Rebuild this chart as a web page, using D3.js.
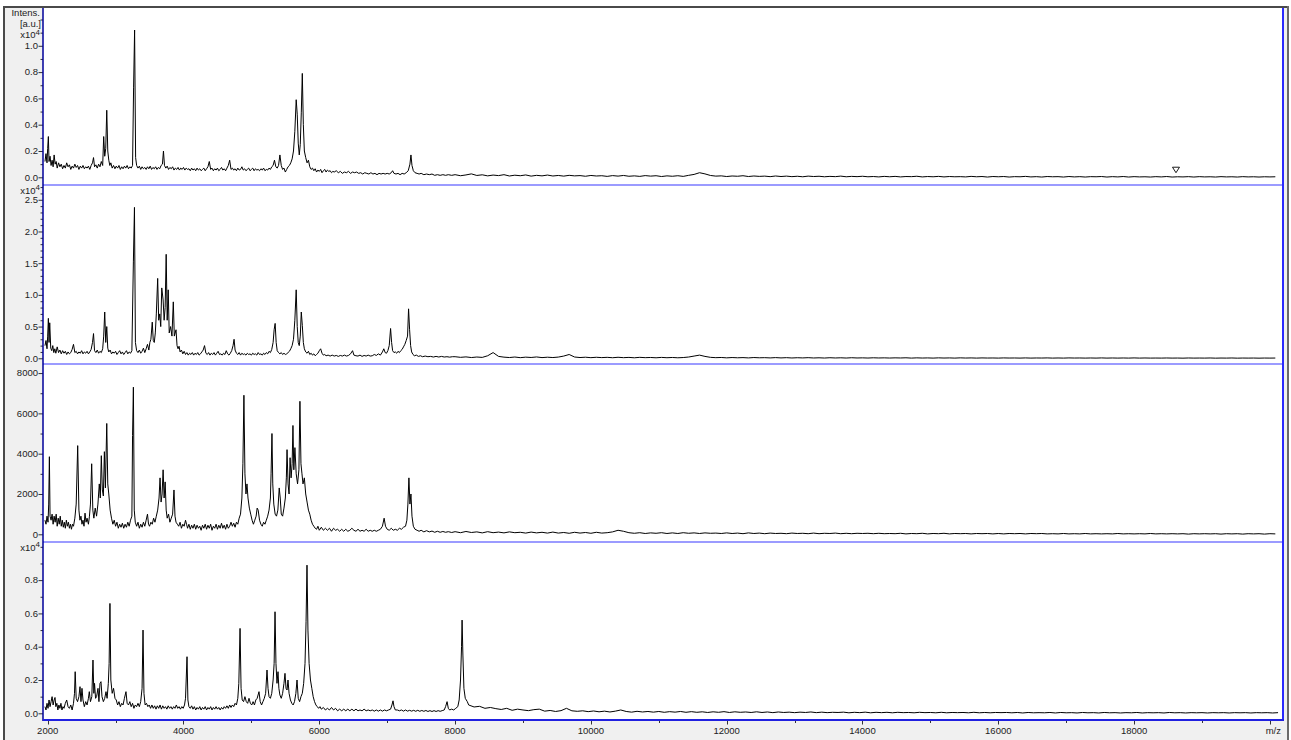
<!DOCTYPE html>
<html><head><meta charset="utf-8">
<script src="https://cdn.jsdelivr.net/npm/d3@7"></script>
<style>
body{margin:0;background:#fff}
svg{display:block}
text{font-family:"Liberation Sans",Arial,sans-serif;font-size:9.5px;fill:#222}
</style>
</head><body>
<svg id="c" width="1291" height="740"></svg>
<script>
// ---------- DATA (m/z, intensity a.u.) ----------
// low/mid mass part of each spectrum: [m/z, intensity]
const spec1 = [[1960,1200],[1975,1800],[1990,1100],[2000,2200],[2010,3100],[2020,1200],[2035,1600],[2050,900],[2065,1300],[2080,800],[2095,1700],[2110,1000],[2125,1200],[2140,700],[2160,1100],[2180,800],[2200,1000],[2220,650],[2240,900],[2260,700],[2280,1100],[2300,800],[2320,950],[2340,600],[2360,850],[2380,700],[2400,1000],[2420,750],[2440,900],[2460,600],[2480,850],[2500,700],[2520,900],[2540,650],[2560,800],[2580,700],[2600,850],[2620,600],[2640,900],[2660,1100],[2675,1500],[2690,800],[2710,950],[2730,700],[2750,1000],[2770,800],[2790,1200],[2810,900],[2825,3100],[2840,1600],[2855,2200],[2870,5100],[2885,2000],[2900,1300],[2915,900],[2930,1100],[2950,700],[2970,900],[2990,650],[3010,850],[3030,700],[3050,900],[3070,600],[3090,800],[3110,650],[3130,850],[3150,700],[3170,900],[3190,650],[3210,800],[3230,700],[3250,900],[3265,6800],[3280,11200],[3295,1500],[3310,900],[3330,700],[3350,850],[3370,600],[3390,800],[3410,650],[3430,750],[3450,600],[3470,800],[3490,650],[3510,850],[3530,600],[3550,750],[3570,650],[3590,800],[3610,600],[3630,750],[3650,650],[3670,900],[3690,1000],[3705,2000],[3720,900],[3740,700],[3760,850],[3780,600],[3800,750],[3820,650],[3840,800],[3860,550],[3880,700],[3900,600],[3920,750],[3940,550],[3960,700],[3980,600],[4000,750],[4020,550],[4040,700],[4060,600],[4080,650],[4100,500],[4120,700],[4140,550],[4160,650],[4180,500],[4200,700],[4220,550],[4240,650],[4260,500],[4280,600],[4300,700],[4320,500],[4340,650],[4360,800],[4380,1200],[4400,600],[4420,700],[4440,500],[4460,650],[4480,550],[4500,700],[4520,500],[4540,600],[4560,750],[4580,550],[4600,650],[4620,500],[4640,700],[4660,900],[4680,1300],[4700,600],[4720,700],[4740,550],[4760,650],[4780,500],[4800,700],[4820,550],[4840,600],[4860,800],[4880,550],[4900,650],[4920,500],[4940,600],[4960,700],[4980,500],[5000,600],[5020,700],[5040,500],[5060,650],[5080,550],[5100,600],[5120,500],[5140,650],[5160,550],[5180,700],[5200,500],[5220,600],[5240,550],[5260,700],[5280,600],[5300,800],[5320,900],[5340,1300],[5360,800],[5380,700],[5400,900],[5420,1700],[5440,900],[5460,600],[5480,700],[5500,400],[5520,600],[5540,800],[5560,900],[5580,1100],[5600,1400],[5620,2000],[5640,3500],[5660,5900],[5675,4800],[5690,2600],[5705,1700],[5720,2500],[5735,4900],[5750,7900],[5765,4000],[5780,2000],[5800,1500],[5820,1100],[5840,1300],[5860,800],[5880,600],[5900,700],[5920,500],[5940,650],[5960,400],[5980,550],[6000,450],[6020,600],[6040,350],[6060,500],[6080,600],[6100,400],[6120,550],[6140,450],[6160,500],[6180,350],[6200,450],[6220,400],[6250,500],[6280,350],[6310,450],[6340,300],[6370,400],[6400,350],[6430,450],[6460,300],[6490,400],[6520,350],[6550,400],[6580,300],[6610,350],[6640,250],[6670,350],[6700,300],[6730,250],[6760,350],[6790,250],[6820,300],[6850,200],[6880,300],[6910,250],[6940,300],[6970,250],[7000,300],[7030,250],[7060,350],[7080,500],[7100,300],[7130,250],[7160,300],[7190,200],[7220,300],[7250,250],[7280,350],[7310,500],[7335,1000],[7350,1700],[7365,900],[7385,500],[7410,350],[7440,300],[7470,250],[7500,300],[7540,200],[7580,250],[7620,200],[7660,250],[7700,150],[7740,200],[7780,150],[7820,200],[7860,150],[7900,200],[7950,150]];

const spec2 = [[1960,2000],[1975,2800],[1990,1500],[2000,3500],[2010,6300],[2020,2500],[2030,5600],[2045,1600],[2060,1200],[2075,2000],[2090,900],[2105,1500],[2120,800],[2140,1800],[2160,900],[2180,1300],[2200,700],[2220,1200],[2240,800],[2260,1100],[2280,600],[2300,1000],[2320,700],[2340,900],[2360,1400],[2380,2200],[2400,900],[2420,1100],[2440,700],[2460,1000],[2480,800],[2500,1200],[2520,700],[2540,1000],[2560,800],[2580,1100],[2600,700],[2620,1000],[2640,1400],[2660,2500],[2675,3900],[2690,1200],[2710,900],[2730,1300],[2750,800],[2770,1100],[2790,900],[2810,1500],[2825,3500],[2840,7300],[2855,2500],[2870,5000],[2885,1600],[2900,1000],[2920,1300],[2940,700],[2960,1000],[2980,800],[3000,1100],[3020,600],[3040,900],[3060,1200],[3080,700],[3100,1000],[3120,600],[3140,900],[3160,1200],[3180,700],[3200,1000],[3220,800],[3240,1200],[3262,15200],[3278,23800],[3292,2500],[3310,1200],[3330,900],[3350,1300],[3370,800],[3390,1100],[3410,1600],[3430,900],[3450,1500],[3470,2200],[3490,1300],[3505,2500],[3520,3000],[3540,5700],[3555,2800],[3570,2500],[3585,4000],[3600,7000],[3620,12600],[3635,6000],[3650,7000],[3665,5000],[3680,11100],[3700,9200],[3715,6000],[3730,8000],[3745,16400],[3760,6000],[3775,10800],[3790,4000],[3810,5000],[3830,3500],[3850,8900],[3865,3500],[3890,4500],[3905,2000],[3920,1500],[3935,1900],[3950,1000],[3970,1300],[3990,700],[4010,1100],[4030,600],[4050,900],[4070,500],[4090,800],[4110,600],[4130,900],[4150,500],[4170,800],[4190,600],[4210,900],[4230,500],[4250,700],[4270,1000],[4290,1300],[4310,2000],[4330,800],[4350,600],[4370,900],[4390,500],[4410,800],[4430,600],[4450,900],[4470,500],[4490,800],[4510,1100],[4530,600],[4550,700],[4570,500],[4590,800],[4610,600],[4630,1200],[4650,700],[4670,500],[4690,800],[4710,1200],[4730,2000],[4745,3000],[4760,1300],[4780,800],[4800,600],[4820,900],[4840,500],[4860,800],[4880,600],[4900,700],[4920,500],[4940,800],[4960,600],[4980,700],[5000,500],[5020,800],[5040,600],[5060,700],[5080,500],[5100,900],[5120,600],[5140,700],[5160,500],[5180,800],[5200,600],[5220,900],[5240,700],[5260,1100],[5280,900],[5300,1400],[5320,2500],[5335,4500],[5350,5500],[5365,2500],[5380,1200],[5400,900],[5420,700],[5440,900],[5460,600],[5480,800],[5500,600],[5520,700],[5540,900],[5560,1100],[5580,1500],[5600,2000],[5620,3000],[5640,6000],[5660,10800],[5675,5000],[5690,2500],[5705,2000],[5720,3500],[5735,7300],[5750,5200],[5765,2500],[5780,1500],[5800,1000],[5820,800],[5840,1100],[5860,600],[5880,800],[5900,500],[5920,700],[5940,400],[5960,600],[5980,800],[6000,1200],[6020,1500],[6040,800],[6060,500],[6080,600],[6100,400],[6130,500],[6160,350],[6190,500],[6220,350],[6250,450],[6280,300],[6310,450],[6340,350],[6370,500],[6400,350],[6430,450],[6460,700],[6490,1200],[6510,500],[6540,400],[6570,350],[6600,500],[6630,300],[6660,450],[6690,350],[6720,500],[6750,350],[6780,400],[6810,600],[6840,450],[6870,700],[6900,500],[6930,1000],[6950,1500],[6970,900],[6990,800],[7010,1200],[7030,2000],[7050,4700],[7065,2500],[7080,1200],[7100,900],[7120,1000],[7140,800],[7160,1100],[7180,900],[7200,1200],[7220,1400],[7240,1800],[7260,2200],[7280,2800],[7300,3500],[7315,7800],[7330,4500],[7345,2000],[7360,1000],[7380,600],[7400,400],[7430,500],[7460,300],[7490,400],[7520,250],[7560,350],[7600,250],[7640,300],[7680,200],[7720,300],[7760,200],[7800,300],[7840,200],[7880,250],[7920,180],[7960,250]];

const spec3 = [[1960,700],[1975,500],[1990,900],[2005,600],[2015,1500],[2025,3850],[2035,900],[2050,700],[2065,1000],[2080,500],[2095,900],[2110,600],[2125,1000],[2140,400],[2155,800],[2170,500],[2185,900],[2200,400],[2215,700],[2230,350],[2245,600],[2260,300],[2275,700],[2290,400],[2305,600],[2320,300],[2335,500],[2350,250],[2365,500],[2380,400],[2400,800],[2420,1500],[2442,4400],[2460,1200],[2475,700],[2490,900],[2505,500],[2520,700],[2535,400],[2550,1050],[2565,600],[2580,800],[2600,500],[2615,900],[2630,1500],[2648,3500],[2665,1200],[2680,800],[2700,1300],[2720,900],[2740,1500],[2760,2500],[2775,1800],[2790,3900],[2805,2200],[2820,1900],[2835,4100],[2850,2300],[2870,5500],[2885,2500],[2900,2000],[2920,1200],[2940,800],[2960,500],[2980,700],[3000,400],[3020,600],[3040,300],[3060,500],[3080,350],[3100,550],[3120,300],[3140,500],[3160,350],[3180,600],[3200,400],[3220,700],[3240,900],[3250,4900],[3262,7300],[3275,1200],[3290,600],[3310,400],[3330,600],[3350,300],[3370,500],[3390,350],[3410,600],[3430,400],[3450,700],[3470,1000],[3485,500],[3500,400],[3520,600],[3540,500],[3560,800],[3580,600],[3600,900],[3620,1200],[3640,1800],[3655,2800],[3670,1600],[3685,2000],[3700,3200],[3715,1800],[3730,2600],[3745,1200],[3760,800],[3780,1000],[3800,600],[3820,800],[3840,1000],[3860,2200],[3875,900],[3890,600],[3910,500],[3930,400],[3950,600],[3970,300],[3990,500],[4010,400],[4030,700],[4045,500],[4060,300],[4080,500],[4100,250],[4120,450],[4140,300],[4160,500],[4180,250],[4200,450],[4220,300],[4240,400],[4260,200],[4280,450],[4300,300],[4320,500],[4340,250],[4360,450],[4380,300],[4400,500],[4420,200],[4440,400],[4460,300],[4480,500],[4500,250],[4520,450],[4540,300],[4560,550],[4580,300],[4600,450],[4620,250],[4640,500],[4660,300],[4680,400],[4700,600],[4720,400],[4740,550],[4760,350],[4780,600],[4800,500],[4820,800],[4840,1000],[4860,1800],[4875,3500],[4890,6900],[4905,3000],[4920,2000],[4935,2500],[4950,1800],[4970,1300],[4990,1000],[5010,700],[5030,500],[5050,700],[5070,900],[5085,1300],[5100,1200],[5120,700],[5140,500],[5160,400],[5180,600],[5200,500],[5220,700],[5240,900],[5260,1200],[5280,1800],[5290,3000],[5303,5000],[5315,2500],[5330,1500],[5350,1000],[5370,900],[5390,1200],[5410,2300],[5425,1800],[5440,1000],[5460,900],[5480,1300],[5500,1800],[5515,2800],[5525,4200],[5540,2500],[5555,2000],[5570,3800],[5585,2800],[5600,3500],[5612,5400],[5625,3200],[5641,4300],[5660,3000],[5680,2500],[5700,3200],[5715,6600],[5730,3500],[5745,3000],[5760,2500],[5780,2800],[5800,2000],[5820,1600],[5840,1200],[5860,1000],[5880,700],[5900,500],[5920,400],[5940,300],[5960,250],[5980,400],[6000,200],[6030,350],[6060,200],[6090,300],[6120,200],[6150,300],[6180,150],[6210,300],[6240,200],[6270,250],[6300,150],[6330,250],[6360,150],[6390,250],[6420,150],[6450,200],[6480,300],[6510,200],[6540,150],[6570,250],[6600,150],[6630,200],[6660,150],[6690,250],[6720,150],[6750,200],[6780,150],[6810,200],[6840,150],[6870,200],[6900,250],[6930,400],[6955,800],[6975,400],[7000,250],[7030,200],[7060,300],[7090,200],[7120,250],[7150,200],[7180,300],[7210,250],[7240,350],[7270,400],[7290,700],[7305,1500],[7320,2800],[7335,1500],[7350,2000],[7365,900],[7385,400],[7410,250],[7440,200],[7470,150],[7500,200],[7540,120],[7580,180],[7620,120],[7660,160],[7700,100],[7740,150],[7780,100],[7820,140],[7860,100],[7900,130],[7950,90]];

const spec4 = [[1960,400],[1975,200],[1990,600],[2005,300],[2020,800],[2035,400],[2050,700],[2065,1000],[2080,500],[2095,800],[2108,950],[2120,400],[2135,600],[2150,200],[2165,500],[2180,300],[2195,600],[2210,200],[2225,400],[2240,300],[2260,600],[2280,800],[2300,400],[2320,300],[2340,500],[2360,200],[2380,600],[2395,1200],[2405,2500],[2420,900],[2440,700],[2460,1000],[2476,1600],[2490,700],[2505,1500],[2520,800],[2540,400],[2560,700],[2580,500],[2600,900],[2613,1300],[2630,700],[2650,1000],[2667,3200],[2680,1200],[2690,1800],[2705,900],[2720,1000],[2741,1500],[2755,700],[2770,1800],[2785,1900],[2800,1000],[2820,700],[2840,900],[2859,1300],[2875,900],[2893,1800],[2905,3000],[2917,6600],[2930,2000],[2950,1200],[2970,1500],[2991,900],[3010,800],[3030,500],[3050,700],[3070,400],[3090,600],[3110,500],[3130,900],[3153,1300],[3170,600],[3190,500],[3210,700],[3230,400],[3250,600],[3270,300],[3290,500],[3310,400],[3330,600],[3350,400],[3370,700],[3390,1500],[3404,5000],[3418,1200],[3435,500],[3455,600],[3475,400],[3495,500],[3515,300],[3535,500],[3555,300],[3575,450],[3595,250],[3615,450],[3635,300],[3655,500],[3675,250],[3695,450],[3715,300],[3735,400],[3755,250],[3775,450],[3795,300],[3815,400],[3835,250],[3855,400],[3875,300],[3895,500],[3915,300],[3935,400],[3955,250],[3975,400],[3995,300],[4015,500],[4030,900],[4052,3400],[4065,800],[4080,400],[4100,300],[4120,450],[4140,250],[4160,400],[4180,200],[4200,350],[4220,250],[4240,400],[4260,200],[4280,350],[4300,250],[4320,400],[4340,200],[4360,350],[4380,250],[4400,400],[4420,200],[4440,350],[4460,250],[4480,400],[4500,250],[4520,350],[4540,200],[4560,350],[4580,250],[4600,400],[4620,300],[4640,450],[4660,300],[4680,500],[4700,350],[4720,500],[4740,400],[4760,600],[4780,500],[4800,900],[4815,1800],[4833,5100],[4848,1500],[4865,800],[4885,700],[4905,1000],[4925,700],[4945,600],[4965,900],[4985,600],[5005,500],[5025,700],[5045,500],[5065,800],[5085,900],[5112,1300],[5130,700],[5150,500],[5170,700],[5190,900],[5210,1200],[5230,2600],[5245,1500],[5260,1000],[5280,900],[5300,1200],[5320,2000],[5335,3000],[5348,6100],[5362,3000],[5377,1800],[5392,2500],[5405,1500],[5420,1100],[5440,900],[5460,1200],[5480,1800],[5495,2400],[5510,1500],[5525,1400],[5539,2000],[5555,1200],[5575,800],[5595,600],[5615,500],[5635,700],[5655,1200],[5672,2000],[5690,900],[5710,700],[5730,1000],[5750,1200],[5770,1800],[5790,3000],[5805,5500],[5819,8900],[5833,5000],[5850,3000],[5870,2000],[5890,1500],[5910,1000],[5930,700],[5950,500],[5970,400],[5990,300],[6010,400],[6030,250],[6060,350],[6090,200],[6120,300],[6150,200],[6180,350],[6210,200],[6240,300],[6270,150],[6300,250],[6330,150],[6360,250],[6390,150],[6420,250],[6450,150],[6480,250],[6510,150],[6540,250],[6570,150],[6600,200],[6630,150],[6660,250],[6690,150],[6720,200],[6750,150],[6780,200],[6810,130],[6840,200],[6870,130],[6900,200],[6930,130],[6960,200],[6990,150],[7020,200],[7050,250],[7070,500],[7086,750],[7100,400],[7120,200],[7150,200],[7180,150],[7210,200],[7240,130],[7270,200],[7300,130],[7330,180],[7360,130],[7390,180],[7420,120],[7450,180],[7480,120],[7510,170],[7540,120],[7570,170],[7600,110],[7630,160],[7660,110],[7690,160],[7720,110],[7750,160],[7780,120],[7810,160],[7840,200],[7860,400],[7882,700],[7900,300],[7920,200],[7950,250],[7980,200],[8010,300],[8040,400],[8060,800],[8080,2000],[8095,4000],[8103,5600],[8115,3500],[8130,1500],[8150,900],[8180,700]];

// high mass baseline of each spectrum, sampled every tailStep Da from tailStarts[i]
const tailStarts = [8000, 8000, 8000, 8200];
const tailStep = 80;
const tail1 = [200,120,180,260,140,190,110,170,130,200,100,160,120,180,90,150,110,170,100,140,
  90,150,110,130,80,140,100,120,70,130,90,140,80,110,70,130,90,120,60,110,
  80,120,70,150,220,350,260,140,90,110,60,100,80,120,60,100,70,90,50,100,
  60,90,50,80,40,90,60,80,40,70,50,90,40,70,50,80,40,60,30,70,
  40,70,30,60,50,80,30,60,40,70,30,60,40,50,30,70,40,60,20,60,
  40,60,20,50,40,70,30,50,20,60,40,50,20,60,30,50,20,50,40,60,
  20,50,30,60,20,50,30,40,20,50,30,60,20,40,30,50,20,50,30,40,
  20,50,30,40,20,50,30,40,20,40,30,40];
const tail2 = [250,150,220,120,200,140,400,900,300,180,120,200,100,180,130,210,110,170,120,190,
  350,600,200,120,170,100,160,110,150,90,160,100,140,80,150,100,130,80,140,90,
  130,80,120,200,350,500,300,150,100,130,70,120,80,110,60,120,80,100,60,110,
  60,100,50,90,60,100,50,80,40,90,50,80,40,90,50,70,40,80,50,70,
  40,70,50,80,30,70,40,60,30,70,40,60,30,70,40,60,30,60,40,50,
  30,60,40,50,30,60,30,50,40,60,30,50,30,60,40,50,30,50,30,60,
  30,50,30,50,30,60,30,50,30,40,30,50,30,40,20,50,30,40,30,50,
  20,40,30,50,20,40,30,40,20,40,30,40];
const tail3 = [130,80,140,90,120,70,130,80,110,70,120,80,100,60,110,70,100,60,110,60,
  90,50,100,60,90,50,100,60,80,120,200,150,80,50,80,40,70,50,80,40,
  70,40,80,50,70,40,70,50,60,40,70,40,60,30,70,40,60,30,60,40,
  50,30,60,40,50,30,60,30,50,40,60,30,50,30,50,40,50,30,50,30,
  40,30,50,20,40,30,50,20,40,30,50,20,40,30,40,20,40,30,40,20,
  40,20,40,30,40,20,40,30,40,20,30,20,40,20,30,20,40,20,30,20,
  30,20,40,20,30,20,30,20,40,20,30,20,30,20,30,10,30,20,30,20,
  30,10,30,20,30,10,30,20,30,10,30,20];
const tail4 = [500,380,420,300,350,280,230,300,180,250,200,160,220,250,130,170,110,160,300,150,
  120,150,100,140,90,130,80,130,200,110,70,120,80,110,70,110,60,100,70,110,
  60,100,60,90,50,90,60,100,50,90,60,80,50,90,50,80,40,80,50,70,
  40,70,50,80,40,70,40,60,50,70,30,60,40,70,30,60,40,60,30,60,
  40,50,30,60,40,50,30,60,30,50,40,50,30,60,30,50,30,50,40,50,
  30,50,20,50,30,40,30,50,20,50,30,40,20,50,30,40,20,50,30,40,
  20,40,30,50,20,40,30,40,20,50,30,40,20,40,30,40,20,40,30,40,
  20,40,30,40,20,40,30,40,20,40];

const lowParts = [spec1, spec2, spec3, spec4];
const tails = [tail1, tail2, tail3, tail4];
const mzDomain = [1931, 20193];
const yDomains = [[-585, 12950], [-900, 27330], [-382, 8450], [-402, 10290]];
const yMajorTicks = [[0,2000,4000,6000,8000,10000],[0,5000,10000,15000,20000,25000],[0,2000,4000,6000,8000],[0,2000,4000,6000,8000]];
const yTickLabels = [["0.0","0.2","0.4","0.6","0.8","1.0"],["0.0","0.5","1.0","1.5","2.0","2.5"],["0","2000","4000","6000","8000"],["0.0","0.2","0.4","0.6","0.8"]];
const yMinorTicks = [
  [1000,3000,5000,7000,9000,11000,12000],
  [1000,2000,3000,4000,6000,7000,8000,9000,11000,12000,13000,14000,16000,17000,18000,19000,21000,22000,23000,24000,26000,27000],
  [1000,3000,5000,7000],
  [1000,3000,5000,7000,9000,10000]
];
const exponentPanels = [0, 1, 3];
const xMajorTicks = [2000,4000,6000,8000,10000,12000,14000,16000,18000,20000];
const xTickLabels = ["2000","4000","6000","8000","10000","12000","14000","16000","18000",""];
const xMinorTicks = [3000,5000,7000,9000,11000,13000,15000,17000,19000];
const markerMz = [18617];
const markerIntensity = [350];
const xAxisTitle = "m/z";
const yAxisTitle = ["Intens.", "[a.u.]"];

// ---------- LAYOUT ----------
const W = 1291, H = 740;
const plotL = 43, plotR = 1283;
const panelEdges = [7, 185, 364, 542, 720];

const svg = d3.select("#c");

svg.append("rect").attr("x",4).attr("y",7).attr("width",1284).attr("height",H-7).attr("fill","#f0f0f0");
svg.append("rect").attr("x",plotL).attr("y",8).attr("width",plotR-plotL).attr("height",720-8).attr("fill","#fff");

const x = d3.scaleLinear().domain(mzDomain).range([plotL, plotR]);
const defs = svg.append("defs");

lowParts.forEach((low, i) => {
  const data = low.concat(tails[i].map((v, k) => [tailStarts[i] + k * tailStep, v]));
  const top = panelEdges[i], bot = panelEdges[i+1];
  const y = d3.scaleLinear().domain(yDomains[i]).range([bot, top]);
  defs.append("clipPath").attr("id","clip"+i).append("rect")
    .attr("x",plotL+1).attr("y",top+1).attr("width",plotR-plotL-2).attr("height",bot-top-1);

  const line = d3.line().x(d => x(d[0])).y(d => y(d[1]));
  svg.append("path").datum(data)
    .attr("clip-path","url(#clip"+i+")")
    .attr("fill","none").attr("stroke","#000").attr("stroke-width",1)
    .attr("stroke-linejoin","round")
    .attr("d", line);

  const g = svg.append("g");
  g.selectAll(".maj").data(yMajorTicks[i]).join("line")
    .attr("x1",plotL-4.5).attr("x2",plotL).attr("y1",d=>y(d)+0.5).attr("y2",d=>y(d)+0.5)
    .attr("stroke","#333").attr("stroke-width",1);
  g.selectAll(".min").data(yMinorTicks[i]).join("line")
    .attr("x1",plotL-2.5).attr("x2",plotL).attr("y1",d=>y(d)+0.5).attr("y2",d=>y(d)+0.5)
    .attr("stroke","#333").attr("stroke-width",1);
  g.selectAll("text").data(yMajorTicks[i]).join("text")
    .attr("x",plotL-5).attr("y",d=>y(d)).attr("dy","0.35em")
    .attr("text-anchor","end").text((d,j)=>yTickLabels[i][j]);

  if (i === 0) {
    svg.append("text").attr("x",40).attr("y",15.5).attr("text-anchor","end").text(yAxisTitle[0]);
    svg.append("text").attr("x",41).attr("y",26.5).attr("text-anchor","end").text(yAxisTitle[1]);
  }
  if (exponentPanels.includes(i)) {
    const by = i === 0 ? 38 : (top + 8.8);
    const t = svg.append("text").attr("x",40).attr("y",by).attr("text-anchor","end");
    t.append("tspan").text("x10");
    t.append("tspan").attr("dy","-3.5").attr("font-size","8px").text("4");
  }
  if (i === 0) {
    svg.selectAll(".marker").data(markerMz).join("path")
      .attr("d", (d,j) => {
        const cx = x(d), cy = y(markerIntensity[j]);
        return `M${cx-3.5},${cy-5.5}L${cx+3.5},${cy-5.5}L${cx},${cy}Z`;
      })
      .attr("fill","#fff").attr("stroke","#000").attr("stroke-width",0.9);
  }
});

svg.selectAll(".sep").data(panelEdges.slice(1,4)).join("line")
  .attr("x1",plotL).attr("x2",plotR).attr("y1",d=>d).attr("y2",d=>d)
  .attr("stroke","#7a7aff").attr("stroke-width",1.5);

svg.append("line").attr("x1",plotL).attr("x2",plotL).attr("y1",7).attr("y2",721)
  .attr("stroke","#00009a").attr("stroke-width",1.5);
svg.append("line").attr("x1",plotR).attr("x2",plotR).attr("y1",7).attr("y2",721)
  .attr("stroke","#2a2aff").attr("stroke-width",2);
svg.append("line").attr("x1",plotL).attr("x2",plotR+1).attr("y1",720).attr("y2",720)
  .attr("stroke","#2020e0").attr("stroke-width",2);

svg.append("line").attr("x1",3).attr("x2",1289).attr("y1",7).attr("y2",7).attr("stroke","#4a4a4a").attr("stroke-width",2);
svg.append("line").attr("x1",4).attr("x2",4).attr("y1",6).attr("y2",H).attr("stroke","#4a4a4a").attr("stroke-width",2);
svg.append("line").attr("x1",1288).attr("x2",1288).attr("y1",6).attr("y2",H).attr("stroke","#6a6a6a").attr("stroke-width",2);

const xa = svg.append("g");
xa.selectAll(".xmaj").data(xMajorTicks).join("line")
  .attr("x1",d=>Math.round(x(d))+0.5).attr("x2",d=>Math.round(x(d))+0.5).attr("y1",721).attr("y2",724.5)
  .attr("stroke","#333").attr("stroke-width",1);
xa.selectAll(".xmin").data(xMinorTicks).join("line")
  .attr("x1",d=>Math.round(x(d))+0.5).attr("x2",d=>Math.round(x(d))+0.5).attr("y1",721).attr("y2",723)
  .attr("stroke","#333").attr("stroke-width",1);
xa.selectAll("text").data(xMajorTicks).join("text")
  .attr("x",d=>x(d)).attr("y",733.5).attr("text-anchor","middle")
  .text((d,j)=>xTickLabels[j]);
svg.append("text").attr("x",1281).attr("y",733.5).attr("text-anchor","end").text(xAxisTitle);
</script>
</body></html>
